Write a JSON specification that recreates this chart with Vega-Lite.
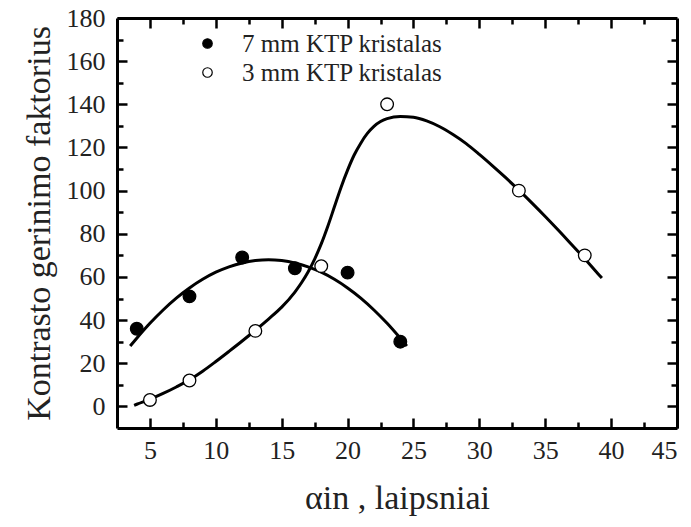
{
  "$schema": "https://vega.github.io/schema/vega-lite/v6.json",
  "width": 560,
  "height": 410,
  "autosize": "none",
  "padding": {"left": 117, "top": 18, "right": 14, "bottom": 99},
  "background": "white",
  "config": {
    "view": {"stroke": null},
    "font": "Liberation Serif",
    "axis": {
      "domainColor": "black",
      "domainWidth": 3,
      "tickColor": "black",
      "tickWidth": 2.5,
      "grid": false,
      "labelFont": "Liberation Serif",
      "labelFontSize": 26,
      "labelColor": "#222",
      "titleFont": "Liberation Serif",
      "titleFontWeight": "normal",
      "titleColor": "#222",
      "titleFontSize": 34
    },
    "legend": {"labelFont": "Liberation Serif"}
  },
  "datasets": {
    "points": [
      {"s": "7 mm KTP  kristalas", "x": 4, "y": 36},
      {"s": "7 mm KTP  kristalas", "x": 8, "y": 51},
      {"s": "7 mm KTP  kristalas", "x": 12, "y": 69},
      {"s": "7 mm KTP  kristalas", "x": 16, "y": 64},
      {"s": "7 mm KTP  kristalas", "x": 20, "y": 62},
      {"s": "7 mm KTP  kristalas", "x": 24, "y": 30},
      {"s": "3 mm KTP  kristalas", "x": 5, "y": 3},
      {"s": "3 mm KTP  kristalas", "x": 8, "y": 12},
      {"s": "3 mm KTP  kristalas", "x": 13, "y": 35},
      {"s": "3 mm KTP  kristalas", "x": 18, "y": 65},
      {"s": "3 mm KTP  kristalas", "x": 23, "y": 140},
      {"s": "3 mm KTP  kristalas", "x": 33, "y": 100},
      {"s": "3 mm KTP  kristalas", "x": 38, "y": 70}
    ],
    "curves": [
      {"s": "7mm", "x": 3.5, "y": 28},
      {"s": "7mm", "x": 4, "y": 31.6},
      {"s": "7mm", "x": 5, "y": 38.5},
      {"s": "7mm", "x": 6, "y": 44.7},
      {"s": "7mm", "x": 7, "y": 50.2},
      {"s": "7mm", "x": 8, "y": 54.9},
      {"s": "7mm", "x": 9, "y": 58.9},
      {"s": "7mm", "x": 10, "y": 62.2},
      {"s": "7mm", "x": 11, "y": 64.7},
      {"s": "7mm", "x": 12, "y": 66.5},
      {"s": "7mm", "x": 13, "y": 67.6},
      {"s": "7mm", "x": 14, "y": 68},
      {"s": "7mm", "x": 15, "y": 67.6},
      {"s": "7mm", "x": 16, "y": 66.5},
      {"s": "7mm", "x": 17, "y": 64.7},
      {"s": "7mm", "x": 18, "y": 62.2},
      {"s": "7mm", "x": 19, "y": 58.9},
      {"s": "7mm", "x": 20, "y": 54.9},
      {"s": "7mm", "x": 21, "y": 50.2},
      {"s": "7mm", "x": 22, "y": 44.7},
      {"s": "7mm", "x": 23, "y": 38.5},
      {"s": "7mm", "x": 24, "y": 31.6},
      {"s": "7mm", "x": 24.5, "y": 28},
      {"s": "3mm", "x": 3.8, "y": 0.5},
      {"s": "3mm", "x": 4, "y": 1},
      {"s": "3mm", "x": 5, "y": 3.3},
      {"s": "3mm", "x": 6, "y": 6},
      {"s": "3mm", "x": 7, "y": 9},
      {"s": "3mm", "x": 8, "y": 12.3},
      {"s": "3mm", "x": 9, "y": 16.3},
      {"s": "3mm", "x": 10, "y": 20.8},
      {"s": "3mm", "x": 11, "y": 25.5},
      {"s": "3mm", "x": 12, "y": 30.3},
      {"s": "3mm", "x": 13, "y": 35.3},
      {"s": "3mm", "x": 14, "y": 40.5},
      {"s": "3mm", "x": 15, "y": 46},
      {"s": "3mm", "x": 16, "y": 53},
      {"s": "3mm", "x": 16.5, "y": 57.3},
      {"s": "3mm", "x": 17, "y": 62.3},
      {"s": "3mm", "x": 17.5, "y": 68.3},
      {"s": "3mm", "x": 18, "y": 75.3},
      {"s": "3mm", "x": 18.5, "y": 83.5},
      {"s": "3mm", "x": 19, "y": 92.5},
      {"s": "3mm", "x": 19.5, "y": 101.5},
      {"s": "3mm", "x": 20, "y": 109.5},
      {"s": "3mm", "x": 20.5, "y": 116.5},
      {"s": "3mm", "x": 21, "y": 122},
      {"s": "3mm", "x": 21.5, "y": 126.5},
      {"s": "3mm", "x": 22, "y": 129.8},
      {"s": "3mm", "x": 22.5, "y": 132},
      {"s": "3mm", "x": 23, "y": 133.4},
      {"s": "3mm", "x": 24, "y": 134.4},
      {"s": "3mm", "x": 25, "y": 134},
      {"s": "3mm", "x": 26, "y": 132.3},
      {"s": "3mm", "x": 27, "y": 129.6},
      {"s": "3mm", "x": 28, "y": 126},
      {"s": "3mm", "x": 29, "y": 121.8},
      {"s": "3mm", "x": 30, "y": 116.8},
      {"s": "3mm", "x": 31, "y": 111.5},
      {"s": "3mm", "x": 32, "y": 106},
      {"s": "3mm", "x": 33, "y": 100.2},
      {"s": "3mm", "x": 34, "y": 94.2},
      {"s": "3mm", "x": 35, "y": 88},
      {"s": "3mm", "x": 36, "y": 81.6},
      {"s": "3mm", "x": 37, "y": 75},
      {"s": "3mm", "x": 38, "y": 68.4},
      {"s": "3mm", "x": 39, "y": 61.5},
      {"s": "3mm", "x": 39.3, "y": 59.5}
    ]
  },
  "resolve": {"axis": {"x": "independent", "y": "independent"}},
  "layer": [
    {
      "data": {"name": "curves"},
      "mark": {"type": "line", "color": "black", "strokeWidth": 3, "interpolate": "monotone"},
      "encoding": {
        "x": {
          "field": "x", "type": "quantitative",
          "scale": {"domain": [2.5, 45], "nice": false, "zero": false},
          "axis": {
            "orient": "top", "title": null, "labels": false,
            "values": [5, 7.5, 10, 12.5, 15, 17.5, 20, 22.5, 25, 27.5, 30, 32.5, 35, 37.5, 40, 42.5],
            "tickSize": {"condition": {"test": "datum.value % 5 === 0", "value": -10}, "value": -6}
          }
        },
        "y": {
          "field": "y", "type": "quantitative",
          "scale": {"domain": [-10, 180], "nice": false, "zero": false},
          "axis": {
            "orient": "right", "title": null, "labels": false,
            "values": [0, 10, 20, 30, 40, 50, 60, 70, 80, 90, 100, 110, 120, 130, 140, 150, 160, 170],
            "tickSize": {"condition": {"test": "datum.value % 20 === 0", "value": -10}, "value": -6}
          }
        },
        "detail": {"field": "s"}
      }
    },
    {
      "data": {"name": "points"},
      "mark": {"type": "point", "shape": "circle", "filled": true, "size": 160, "stroke": "black", "strokeWidth": 1.3, "opacity": 1},
      "encoding": {
        "x": {
          "field": "x", "type": "quantitative",
          "axis": {
            "orient": "bottom", "title": "αin , laipsniai", "titlePadding": 18,
            "values": [5, 7.5, 10, 12.5, 15, 17.5, 20, 22.5, 25, 27.5, 30, 32.5, 35, 37.5, 40, 42.5, 45],
            "labelExpr": "datum.value % 5 === 0 ? datum.label : ''",
            "labelPadding": 19,
            "tickSize": {"condition": {"test": "datum.value % 5 === 0", "value": -10}, "value": -6}
          }
        },
        "y": {
          "field": "y", "type": "quantitative",
          "axis": {
            "orient": "left", "title": "Kontrasto gerinimo faktorius", "titlePadding": 10,
            "values": [0, 10, 20, 30, 40, 50, 60, 70, 80, 90, 100, 110, 120, 130, 140, 150, 160, 170, 180],
            "labelExpr": "datum.value % 20 === 0 ? datum.label : ''",
            "labelPadding": 22,
            "tickSize": {"condition": {"test": "datum.value % 20 === 0", "value": -10}, "value": -6}
          }
        },
        "fill": {
          "field": "s", "type": "nominal",
          "scale": {"domain": ["7 mm KTP  kristalas", "3 mm KTP  kristalas"], "range": ["black", "white"]},
          "legend": {
            "title": null, "orient": "none", "legendX": 78, "legendY": 13,
            "symbolType": "circle", "symbolSize": 90, "symbolStrokeColor": "black", "symbolStrokeWidth": 1.2,
            "labelFontSize": 25, "labelColor": "#222", "labelLimit": 400,
            "labelOffset": 22, "rowPadding": 3
          }
        }
      }
    }
  ]
}
